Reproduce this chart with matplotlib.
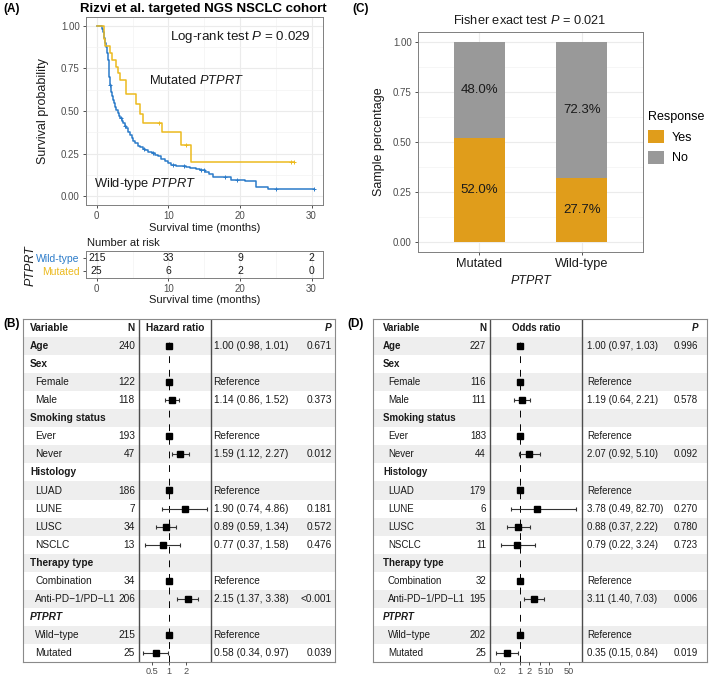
import numpy as np
import matplotlib.pyplot as plt
from matplotlib.patches import Patch
from matplotlib.ticker import MultipleLocator, NullLocator

plt.rcParams['font.family'] = ['Liberation Sans', 'DejaVu Sans']
plt.rcParams['mathtext.fontset'] = 'custom'
plt.rcParams['mathtext.rm'] = 'Liberation Sans'
plt.rcParams['mathtext.it'] = 'Liberation Sans:italic'
plt.rcParams['mathtext.bf'] = 'Liberation Sans:bold'

# ---- (A) Kaplan-Meier data ----
wt_time = [0, 0.7, 0.85, 1.0, 1.15, 1.3, 1.45, 1.6, 1.7, 1.76, 1.8, 1.95, 2.1, 2.25, 2.4,
           2.55, 2.7, 2.9, 3.05, 3.25, 3.5, 3.7, 3.9, 4.1, 4.4, 4.65, 4.9, 5.1, 5.35, 5.7,
           6.0, 6.4, 6.8, 7.2, 7.7, 8.1, 8.6, 9.0, 9.5, 10.0, 10.4, 11.0, 11.6, 12.4, 13.0,
           13.8, 14.4, 15.1, 15.7, 16.3, 18.7, 20.7, 22.3, 23.9, 30.3]
wt_surv = [1.0, 0.98, 0.96, 0.93, 0.90, 0.875, 0.84, 0.80, 0.76, 0.70, 0.65, 0.61, 0.59, 0.565, 0.545,
           0.525, 0.505, 0.486, 0.47, 0.457, 0.44, 0.428, 0.415, 0.40, 0.38, 0.36, 0.341, 0.325, 0.31, 0.298,
           0.287, 0.28, 0.272, 0.263, 0.254, 0.245, 0.234, 0.222, 0.209, 0.197, 0.186, 0.181, 0.176, 0.171, 0.167,
           0.162, 0.157, 0.141, 0.131, 0.112, 0.099, 0.089, 0.056, 0.045, 0.045]
wt_censor = [1.8, 3.4, 4.0, 6.6, 7.9, 10.6, 12.2, 14.6, 15.0, 17.9, 19.6, 25.0, 30.3]

mut_time = [0, 1.0, 1.2, 1.9, 2.2, 2.7, 3.0, 3.2, 4.1, 5.5, 6.0, 6.5, 9.1, 11.8, 13.1, 27.5]
mut_surv = [1.0, 0.92, 0.88, 0.84, 0.80, 0.76, 0.72, 0.68, 0.60, 0.54, 0.48, 0.43, 0.376, 0.30, 0.20, 0.20]
mut_censor = [8.7, 12.5, 27.2, 27.5]

risk_times = [0, 10, 20, 30]
risk_wt = [215, 33, 9, 2]
risk_mut = [25, 6, 2, 0]

# ---- (C) response bars ----
groups = ['Mutated', 'Wild-type']
resp_yes = [0.52, 0.32]
yes_labels = ['52.0%', '27.7%']
no_labels = ['48.0%', '72.3%']

# ---- (B)/(D) forest tables ----
row_labels = ['Age', 'Sex', 'Female', 'Male', 'Smoking status', 'Ever', 'Never', 'Histology',
              'LUAD', 'LUNE', 'LUSC', 'NSCLC', 'Therapy type', 'Combination',
              'Anti-PD\u22121/PD\u2212L1', 'PTPRT', 'Wild\u2212type', 'Mutated']
row_kind = ['b', 'b', 's', 's', 'b', 's', 's', 'b', 's', 's', 's', 's', 'b', 's', 's', 'bi', 's', 's']
nan = np.nan

hr_n = [240, None, 122, 118, None, 193, 47, None, 186, 7, 34, 13, None, 34, 206, None, 215, 25]
hr_est = [1.00, nan, 1, 1.14, nan, 1, 1.59, nan, 1, 1.90, 0.89, 0.77, nan, 1, 2.15, nan, 1, 0.58]
hr_lo = [0.98, nan, nan, 0.86, nan, nan, 1.12, nan, nan, 0.74, 0.59, 0.37, nan, nan, 1.37, nan, nan, 0.34]
hr_hi = [1.01, nan, nan, 1.52, nan, nan, 2.27, nan, nan, 4.86, 1.34, 1.58, nan, nan, 3.38, nan, nan, 0.97]
hr_p = ['0.671', '', '', '0.373', '', '', '0.012', '', '', '0.181', '0.572', '0.476', '', '', '<0.001', '', '', '0.039']

or_n = [227, None, 116, 111, None, 183, 44, None, 179, 6, 31, 11, None, 32, 195, None, 202, 25]
or_est = [1.00, nan, 1, 1.19, nan, 1, 2.07, nan, 1, 3.78, 0.88, 0.79, nan, 1, 3.11, nan, 1, 0.35]
or_lo = [0.97, nan, nan, 0.64, nan, nan, 0.92, nan, nan, 0.49, 0.37, 0.22, nan, nan, 1.40, nan, nan, 0.15]
or_hi = [1.03, nan, nan, 2.21, nan, nan, 5.10, nan, nan, 82.70, 2.22, 3.24, nan, nan, 7.03, nan, nan, 0.84]
or_p = ['0.996', '', '', '0.578', '', '', '0.092', '', '', '0.270', '0.780', '0.723', '', '', '0.006', '', '', '0.019']

BLUE = '#2B7BC9'
YELLOW = '#ECBA1F'
BAR_YES = '#E09D1B'
BAR_NO = '#999999'
TXT = '#1A1A1A'

W, H = 709, 676
fig = plt.figure(figsize=(W / 100, H / 100), dpi=100)


def add_ax(x0, y0, x1, y1):
    return fig.add_axes([x0 / W, 1 - y1 / H, (x1 - x0) / W, (y1 - y0) / H])


def ftext(x, y, s, **kw):
    return fig.text(x / W, 1 - y / H, s, **kw)


def bw_style(ax):
    for sp in ax.spines.values():
        sp.set_color('#7F7F7F')
        sp.set_linewidth(0.7)
    ax.grid(True, which='major', color='#EBEBEB', lw=0.8)
    ax.grid(True, which='minor', color='#F3F3F3', lw=0.5)
    ax.set_axisbelow(True)
    ax.tick_params(which='major', length=2.5, width=0.6, color='#333333',
                   labelsize=7, labelcolor='#4D4D4D', pad=2)
    ax.tick_params(which='minor', length=0)


# ================= (A) =================
ftext(3, 9, '(A)', fontsize=8.5, fontweight='bold', va='center')
ftext(203, 9, 'Rizvi et al. targeted NGS NSCLC cohort', fontsize=9.5,
      fontweight='bold', ha='center', va='center')

ax = add_ax(86, 17, 323, 205)
bw_style(ax)
ax.step(wt_time, wt_surv, where='post', color=BLUE, lw=1.1)
ax.step(mut_time, mut_surv, where='post', color=YELLOW, lw=1.1)
wt_t, wt_s = np.array(wt_time), np.array(wt_surv)
idx = np.searchsorted(wt_t, wt_censor, side='right') - 1
ax.plot(wt_censor, wt_s[idx], '+', color=BLUE, ms=3, mew=0.7)
mt_t, mt_s = np.array(mut_time), np.array(mut_surv)
idx = np.searchsorted(mt_t, mut_censor, side='right') - 1
ax.plot(mut_censor, mt_s[idx], '+', color=YELLOW, ms=3, mew=0.7)
ax.set_xlim(-1.5, 31.6)
ax.set_ylim(-0.05, 1.05)
ax.xaxis.set_major_locator(MultipleLocator(10))
ax.xaxis.set_minor_locator(MultipleLocator(5))
ax.yaxis.set_minor_locator(MultipleLocator(0.125))
ax.set_yticks([0, 0.25, 0.5, 0.75, 1.0])
ax.set_yticklabels(['0.00', '0.25', '0.50', '0.75', '1.00'])
ax.set_ylabel('Survival probability', fontsize=9, color=TXT)
ax.yaxis.set_label_coords(-0.155, 0.5)
ax.set_xlabel('Survival time (months)', fontsize=8, color=TXT, va='center')
ax.xaxis.set_label_coords(0.5, -0.122)
ax.text(20, 0.935, r'Log-rank test $\it{P}$ = 0.029', fontsize=9.6, ha='center', va='center', color=TXT)
ax.text(14.0, 0.68, r'Mutated $\it{PTPRT}$', fontsize=9.3, ha='center', va='center', color=TXT)
ax.text(6.7, 0.07, r'Wild-type $\it{PTPRT}$', fontsize=9.3, ha='center', va='center', color=TXT)

# risk table
ftext(87, 243, 'Number at risk', fontsize=8, va='center', color=TXT)
rt = add_ax(86, 251, 323, 278)
bw_style(rt)
rt.grid(False, axis='y', which='both')
rt.set_xlim(-1.5, 31.6)
rt.set_ylim(-0.6, 1.6)
rt.xaxis.set_major_locator(MultipleLocator(10))
rt.xaxis.set_minor_locator(MultipleLocator(5))
rt.set_yticks([1, 0])
rt.set_yticklabels(['Wild-type', 'Mutated'], fontsize=7.5)
rt.get_yticklabels()[0].set_color(BLUE)
rt.get_yticklabels()[1].set_color(YELLOW)
for t, a, b in zip(risk_times, risk_wt, risk_mut):
    rt.text(t, 1, str(a), ha='center', va='center', fontsize=7.5, color=TXT)
    rt.text(t, 0, str(b), ha='center', va='center', fontsize=7.5, color=TXT)
rt.set_xlabel('Survival time (months)', fontsize=8, color=TXT, va='center')
rt.xaxis.set_label_coords(0.5, -0.82)
rt.set_ylabel('PTPRT', fontsize=9, fontstyle='italic', color=TXT)
rt.yaxis.set_label_coords(-0.21, 0.45)

# ================= (C) =================
ftext(352, 9, '(C)', fontsize=8.5, fontweight='bold', va='center')
ftext(530, 20, r'Fisher exact test $\it{P}$ = 0.021', fontsize=9.2, ha='center', va='center', color=TXT)
axc = add_ax(418, 32, 643, 252)
bw_style(axc)
xpos = np.arange(1, len(groups) + 1)
yes = np.array(resp_yes)
no = 1 - yes
axc.bar(xpos, yes, width=0.5, color=BAR_YES, zorder=2)
axc.bar(xpos, no, bottom=yes, width=0.5, color=BAR_NO, zorder=2)
for x, y, n, ly, ln in zip(xpos, yes, no, yes_labels, no_labels):
    axc.text(x, y / 2, ly, ha='center', va='center', fontsize=9.5, color=TXT, zorder=3)
    axc.text(x, y + n / 2, ln, ha='center', va='center', fontsize=9.5, color=TXT, zorder=3)
axc.set_xlim(0.4, 2.6)
axc.set_ylim(-0.05, 1.05)
axc.set_xticks(xpos)
axc.set_xticklabels(groups)
axc.tick_params(axis='x', labelsize=9.2, labelcolor=TXT)
axc.yaxis.set_minor_locator(MultipleLocator(0.125))
axc.set_yticks([0, 0.25, 0.5, 0.75, 1.0])
axc.set_yticklabels(['0.00', '0.25', '0.50', '0.75', '1.00'])
axc.set_ylabel('Sample percentage', fontsize=9, color=TXT)
axc.yaxis.set_label_coords(-0.145, 0.5)
axc.set_xlabel('PTPRT', fontsize=9, fontstyle='italic', color=TXT, va='center')
axc.xaxis.set_label_coords(0.5, -0.132)
fig.legend([Patch(facecolor=BAR_YES), Patch(facecolor=BAR_NO)], ['Yes', 'No'],
           title='Response', loc='upper left', bbox_to_anchor=(648 / W, 1 - 111 / H),
           frameon=False, fontsize=9, title_fontsize=9, handlelength=1.3, handleheight=1.25,
           labelspacing=0.55, handletextpad=0.6, borderaxespad=0, borderpad=0, alignment='left')


# ================= (B) / (D) =================
def forest(xl, xr, d1, d2, var_x, n_x, est_x, p_x, header, n_vals, est, lo, hi, pvals,
           xlim, ticks, ticklabels, fs):
    top, head_bot, bot = 319, 337, 662
    tb = add_ax(xl, top, xr, bot)
    tb.set_xlim(xl, xr)
    tb.set_ylim(17.5, -1.5)
    tb.set_xticks([])
    tb.set_yticks([])
    for sp in tb.spines.values():
        sp.set_color('#8A8A8A')
        sp.set_linewidth(0.8)
    for i in range(0, len(row_labels), 2):
        tb.axhspan(i - 0.5, i + 0.5, color='#EEEEEE', lw=0, zorder=0)
    tb.axvline(d1, color='#4D4D4D', lw=1.0)
    tb.axvline(d2, color='#4D4D4D', lw=1.0)
    tb.text(var_x, -1, 'Variable', fontsize=fs, fontweight='bold', va='center', color=TXT)
    tb.text(n_x, -1, 'N', fontsize=fs, fontweight='bold', va='center', ha='right', color=TXT)
    tb.text((d1 + d2) / 2, -1, header, fontsize=fs, fontweight='bold', va='center', ha='center', color=TXT)
    tb.text(p_x, -1, 'P', fontsize=fs, fontweight='bold', fontstyle='italic', va='center', ha='right', color=TXT)
    for i, (lab, kind) in enumerate(zip(row_labels, row_kind)):
        if kind == 's':
            tb.text(var_x + 5, i, lab, fontsize=fs, va='center', color=TXT)
        else:
            tb.text(var_x, i, lab, fontsize=fs, va='center', fontweight='bold',
                    fontstyle='italic' if kind == 'bi' else 'normal', color=TXT)
        if n_vals[i] is not None:
            tb.text(n_x, i, str(n_vals[i]), fontsize=fs, va='center', ha='right', color=TXT)
        if not np.isnan(est[i]):
            s = 'Reference' if np.isnan(lo[i]) else f'{est[i]:.2f} ({lo[i]:.2f}, {hi[i]:.2f})'
            tb.text(est_x, i, s, fontsize=fs, va='center', color=TXT)
        tb.text(p_x, i, pvals[i], fontsize=fs, va='center', ha='right', color=TXT)

    fa = add_ax(d1, head_bot, d2, bot)
    fa.patch.set_alpha(0)
    for sp in fa.spines.values():
        sp.set_visible(False)
    fa.set_xscale('log')
    fa.set_xlim(*xlim)
    fa.set_ylim(17.5, -0.5)
    fa.axvline(1, color='black', lw=0.7, ls=(0, (7, 7)), zorder=1)
    e = np.array(est)
    l = np.array(lo)
    h = np.array(hi)
    y = np.arange(len(e))
    m = ~np.isnan(e)
    xerr = np.vstack([np.where(np.isnan(l), 0, e - l), np.where(np.isnan(h), 0, h - e)])
    fa.errorbar(e[m], y[m], xerr=xerr[:, m], fmt='s', ms=4.6, color='black',
                ecolor='#333333', elinewidth=0.8, capsize=1.5, capthick=0.8, zorder=3)
    fa.set_yticks([])
    fa.xaxis.set_minor_locator(NullLocator())
    fa.set_xticks(ticks)
    fa.set_xticklabels(ticklabels)
    fa.tick_params(axis='x', length=2.5, width=0.6, color='#333333', labelsize=6.6,
                   labelcolor='#4D4D4D', pad=1)


ftext(3, 324, '(B)', fontsize=8.5, fontweight='bold', va='center')
forest(23, 335, 139, 211, 30, 135, 213.5, 332, 'Hazard ratio', hr_n, hr_est, hr_lo, hr_hi, hr_p,
       (2 ** -1.8, 2 ** 2.51), [0.5, 1, 2], ['0.5', '1', '2'], 7.3)

ftext(347, 324, '(D)', fontsize=8.5, fontweight='bold', va='center')
forest(373, 707, 490, 582, 383, 486, 587, 698, 'Odds ratio', or_n, or_est, or_lo, or_hi, or_p,
       (10 ** -1.03, 10 ** 2.14), [0.2, 1, 2, 5, 10, 50], ['0.2', '1', '2', '5', '10', '50'], 7.0)

fig.savefig('out.png', dpi=100)
